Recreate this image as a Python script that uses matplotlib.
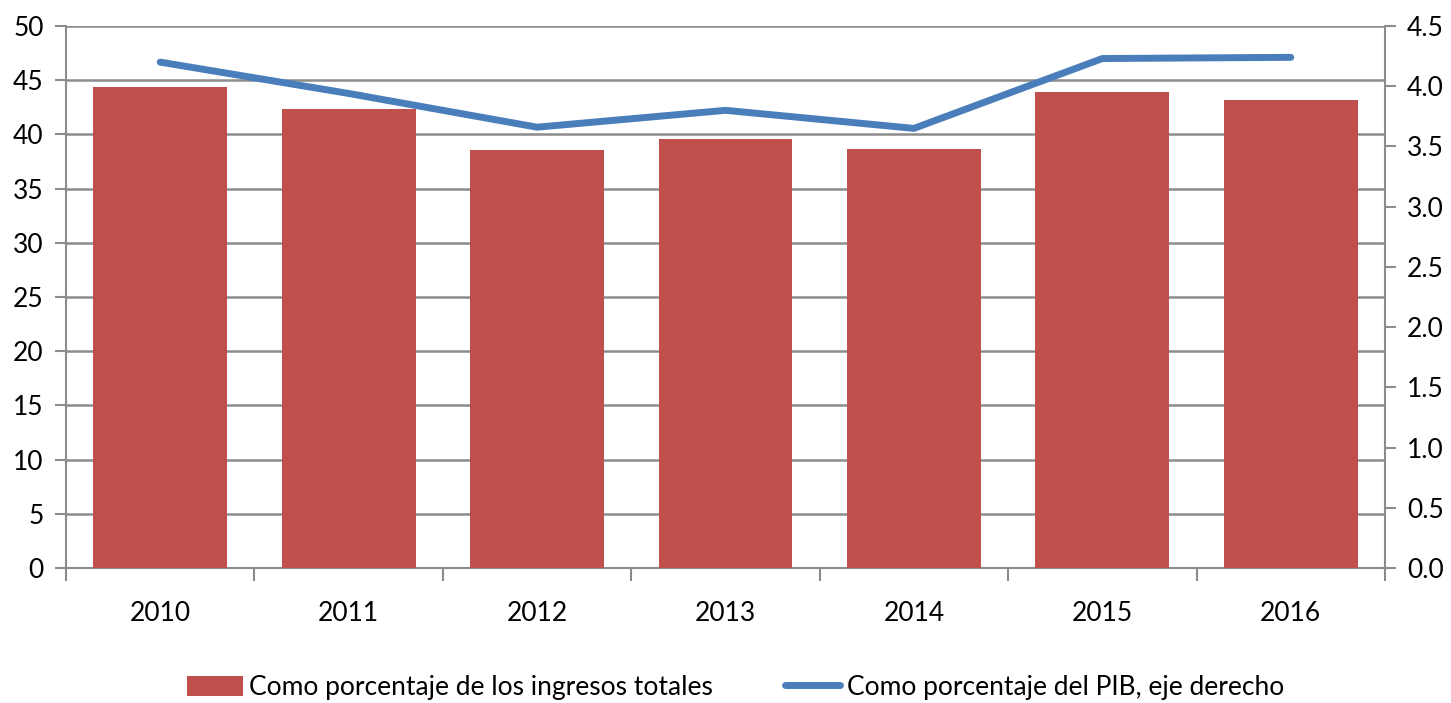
import numpy as np
import matplotlib.pyplot as plt
from matplotlib.ticker import FixedLocator

years = ['2010', '2011', '2012', '2013', '2014', '2015', '2016']
pct_ingresos = [44.4, 42.3, 38.6, 39.6, 38.7, 43.9, 43.2]
pct_pib = [4.20, 3.94, 3.66, 3.80, 3.65, 4.23, 4.24]

plt.rcParams['font.family'] = ['Lato', 'DejaVu Sans']
plt.rcParams['font.size'] = 19
grey = '#8c8c8c'

fig = plt.figure(figsize=(14.51, 7.03), dpi=100)
ax = fig.add_axes([0.0455, 0.192, 0.909, 0.771])
ax2 = ax.twinx()

x = np.arange(len(years))
ax.bar(x, pct_ingresos, width=0.71, color='#c0504d', zorder=3,
       label='Como porcentaje de los ingresos totales')
ax2.plot(x, pct_pib, color='#4a7ebb', lw=5, solid_capstyle='round', zorder=4,
         label='Como porcentaje del PIB, eje derecho')

ax.set_xlim(-0.5, len(years) - 0.5)
ax.set_ylim(0, 50)
ax.set_yticks(np.arange(0, 51, 5))
ax2.set_ylim(0, 4.5)
ax2.set_yticks(np.arange(0, 4.51, 0.5))
ax2.set_yticklabels(['%.1f' % v for v in np.arange(0, 4.51, 0.5)])

ax.set_xticks(x)
ax.set_xticklabels(years)
ax.xaxis.set_minor_locator(FixedLocator(np.arange(-0.5, len(years), 1.0)))
ax.tick_params(axis='x', which='major', length=0, pad=24)
ax.tick_params(axis='x', which='minor', length=9, width=1.5, color=grey, direction='out')
ax.tick_params(axis='y', length=8, width=1.5, color=grey, pad=8)
ax2.tick_params(axis='y', length=8, width=1.5, color=grey, pad=8)

ax.grid(axis='y', color=grey, lw=1.8, zorder=0)
ax.set_axisbelow(True)
for a in (ax, ax2):
    for s in a.spines.values():
        s.set_visible(False)
ax.spines['left'].set_visible(True)
ax.spines['left'].set_color(grey)
ax.spines['left'].set_linewidth(1.5)
ax.spines['bottom'].set_visible(True)
ax.spines['bottom'].set_color(grey)
ax.spines['bottom'].set_linewidth(1.5)
ax2.spines['right'].set_visible(True)
ax2.spines['right'].set_color(grey)
ax2.spines['right'].set_linewidth(1.5)

h1, l1 = ax.get_legend_handles_labels()
h2, l2 = ax2.get_legend_handles_labels()
fig.legend(h1 + h2, l1 + l2, loc='center', bbox_to_anchor=(0.507, 0.022), ncol=2,
           frameon=False, handlelength=2.1, handleheight=0.8, handletextpad=0.25,
           columnspacing=2.7, fontsize=19)

fig.savefig('out.png', dpi=100)
